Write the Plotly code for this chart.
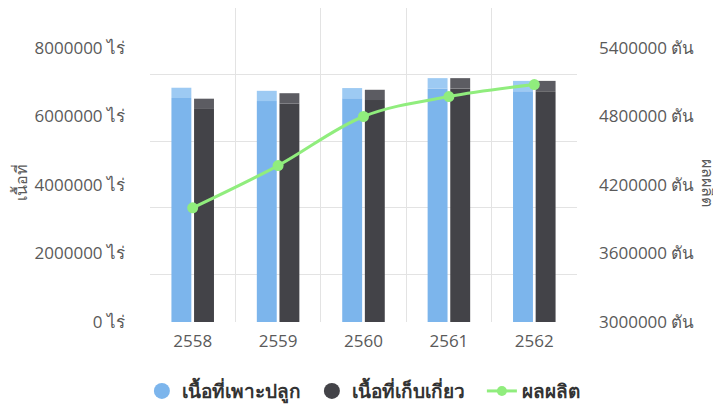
import plotly.graph_objects as go

years = ["2558", "2559", "2560", "2561", "2562"]
planted_area = [6540000, 6450000, 6530000, 6820000, 6740000]   # ไร่
harvested_area = [6220000, 6380000, 6480000, 6820000, 6740000]  # ไร่
production = [4000000, 4370000, 4800000, 4975000, 5080000]      # ตัน

left_ticks = [0, 2000000, 4000000, 6000000, 8000000]
right_ticks = [3000000, 3600000, 4200000, 4800000, 5400000]

BLUE = "#7cb5ec"
BLUE_TOP = "#9dcaf3"
DARK = "#434348"
DARK_TOP = "#5c5c62"
GREEN = "#90ed7d"
FONT = "Open Sans, Noto Sans, DejaVu Sans, sans-serif"
TXT = "#5a5a5a"

top_depth = 300000  # visual thickness of the 3D top face in axis units

fig = go.Figure()

# front faces
fig.add_trace(go.Bar(x=years, y=planted_area, marker_color=BLUE, offsetgroup="a",
                     showlegend=False, marker_line_width=0))
fig.add_trace(go.Bar(x=years, y=harvested_area, marker_color=DARK, offsetgroup="b",
                     showlegend=False, marker_line_width=0))
# top faces
fig.add_trace(go.Bar(x=years, y=[top_depth] * len(years), base=planted_area,
                     marker_color=BLUE_TOP, offsetgroup="a", showlegend=False,
                     marker_line_width=0))
fig.add_trace(go.Bar(x=years, y=[top_depth] * len(years), base=harvested_area,
                     marker_color=DARK_TOP, offsetgroup="b", showlegend=False,
                     marker_line_width=0))

# production line
fig.add_trace(go.Scatter(x=years, y=production, yaxis="y2", mode="lines+markers",
                         line=dict(color=GREEN, width=3, shape="spline"),
                         marker=dict(size=11, color=GREEN),
                         name="ผลผลิต", showlegend=False))

# back-wall grid (decorative axis)
fig.add_trace(go.Scatter(x=[years[0]], y=[None], yaxis="y3", showlegend=False,
                         hoverinfo="skip"))

# legend entries
fig.add_trace(go.Scatter(x=[None], y=[None], mode="markers",
                         marker=dict(size=16, color=BLUE, symbol="circle"),
                         name="<b>เนื้อที่เพาะปลูก</b>"))
fig.add_trace(go.Scatter(x=[None], y=[None], mode="markers",
                         marker=dict(size=16, color=DARK, symbol="circle"),
                         name="<b>เนื้อที่เก็บเกี่ยว</b>"))
fig.add_trace(go.Scatter(x=[None], y=[None], mode="lines+markers",
                         line=dict(color=GREEN, width=3),
                         marker=dict(size=10, color=GREEN),
                         name="<b>ผลผลิต</b>"))

# the page body adds an 8px margin, so the figure is sized 713x400
fig.update_layout(
    width=713, height=400,
    margin=dict(l=142, r=144, t=0, b=86, autoexpand=False),
    paper_bgcolor="white", plot_bgcolor="white",
    font=dict(family=FONT, color=TXT, size=17),
    barmode="group", bargap=0.47, bargroupgap=0.12,
    xaxis=dict(type="category", tickson="boundaries", showgrid=True,
               gridcolor="#e3e3e3", gridwidth=1, ticks="", showline=False,
               zeroline=False, tickfont=dict(size=17, color=TXT),
               ticklabelstandoff=7, range=[-0.5, 4.5]),
    yaxis=dict(range=[0, 9167883], tickvals=left_ticks,
               ticktext=[f"{v} ไร่" for v in left_ticks], showgrid=False,
               zeroline=False, showline=False, ticklabelstandoff=24,
               tickfont=dict(size=17, color=TXT)),
    yaxis2=dict(range=[3000000, 5750365], tickvals=right_ticks,
                ticktext=[f"{v} ตัน" for v in right_ticks], overlaying="y",
                side="right", showgrid=False, zeroline=False, showline=False,
                ticklabelstandoff=21, tickfont=dict(size=17, color=TXT)),
    yaxis3=dict(range=[-1.438, 8.0], tickvals=[0, 2, 4, 6, 7.98], overlaying="y",
                showticklabels=False, showgrid=True, gridcolor="#e3e3e3",
                zeroline=False, showline=False, layer="below traces"),
    legend=dict(orientation="h", x=-0.019, xanchor="left", y=-0.22,
                yanchor="middle", font=dict(size=19, color="#333333"),
                itemwidth=30, entrywidth=125, traceorder="normal"),
    annotations=[
        dict(text="เนื้อที่", xref="paper", yref="paper", x=-0.302, y=0.443,
             xanchor="center", yanchor="middle",
             showarrow=False, textangle=-90, font=dict(size=16, color=TXT)),
        dict(text="ผลผลิต", xref="paper", yref="paper", x=1.307, y=0.443,
             xanchor="center", yanchor="middle",
             showarrow=False, textangle=90, font=dict(size=16, color=TXT)),
    ],
)

fig.write_html("out.html")
